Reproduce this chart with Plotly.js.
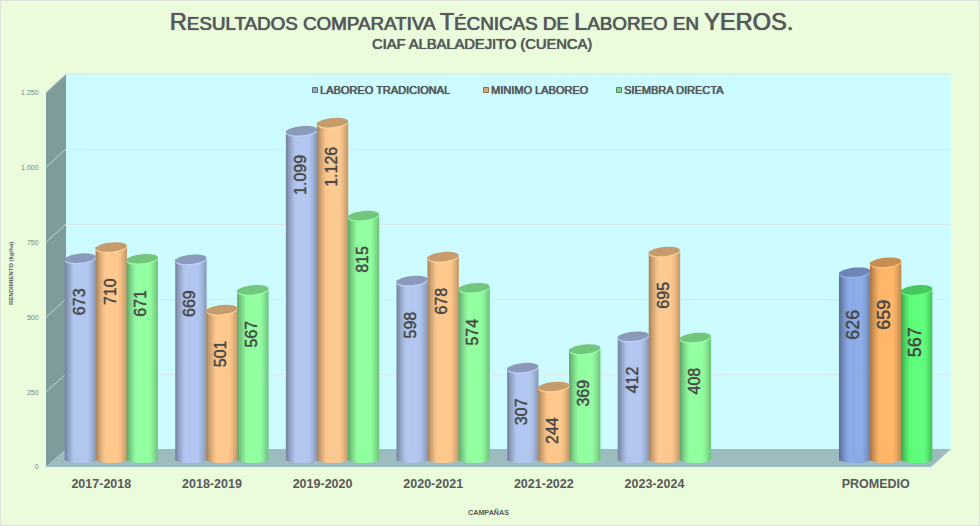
<!DOCTYPE html>
<html><head><meta charset="utf-8">
<script src="https://cdn.plot.ly/plotly-3.0.1.min.js"></script>
<style>html,body{margin:0;padding:0;background:#eafcdc}#c{width:980px;height:526px}</style>
</head><body><div id="c"></div>
<script>
const campaigns = ["2017-2018","2018-2019","2019-2020","2020-2021","2021-2022","2023-2024","","PROMEDIO"];
const tradicional = [673,669,1099,598,307,412,null,626];
const minimo = [710,501,1126,678,244,695,null,659];
const directa = [671,567,815,574,369,408,null,567];
const seriesNames = ["LABOREO TRADICIONAL","MINIMO LABOREO","SIEMBRA DIRECTA"];
const yTicks = [0,250,500,750,1000,1250];

const W=980,H=526;
const px=x=>x/W, py=y=>1-y/H;
const FONT='"Liberation Sans", Arial, sans-serif';
const TXT='#595959';
const soft=c=>'0.35px 0 0 '+c+', 0 0 1px '+c;
const bodyColors=[[178,198,240],[255,200,140],[146,255,160]];
const avgColors=[[138,170,232],[255,182,105],[92,255,120]];
const allSeries=[tradicional,minimo,directa];

const SCALE=0.2992, ZERO=459.5;
const barW=0.28, strips=16;
const capUnits=4.6/SCALE, tiltUnits=1.4/SCALE, bottomUnits=3.5/SCALE;
const labelDrop=147, labelDropAvg=174, labelShift=-0.012;

function shade(c,f){return 'rgb('+c.map(v=>Math.min(255,Math.round(v*f))).join(',')+')';}
function profile(t){
  if(t<0.3) return 0.62+0.38*Math.pow(t/0.3,0.8);
  if(t<0.72) return 1;
  return 1-0.24*Math.pow((t-0.72)/0.28,1.4);
}
function fmt(v){return String(v).replace(/\B(?=(\d{3})+$)/g,'.');}
function capPath(c,v){
  const pts=[];
  for(let a=0;a<32;a++){
    const th=a/32*2*Math.PI;
    pts.push((c+barW/2*Math.cos(th))+','+(v+capUnits*Math.sin(th)+tiltUnits*Math.cos(th)));
  }
  return 'M'+pts.join('L')+'Z';
}

const traces=[], shapes=[], annotations=[];
const front=v=>467-v*374.5/1250, back=v=>449-v*375/1250;

const poly=pts=>'M'+pts.map(p=>px(p[0])+','+py(p[1])).join('L')+'Z';
shapes.push({type:'rect',xref:'paper',yref:'paper',x0:px(66),x1:px(951),y0:py(449),y1:py(74),fillcolor:'#ccfcff',line:{width:0},layer:'below'});
shapes.push({type:'path',xref:'paper',yref:'paper',path:poly([[46,front(1250)],[66,74],[66,449],[46,467]]),fillcolor:'#7f9c9c',line:{width:0},layer:'below'});
shapes.push({type:'path',xref:'paper',yref:'paper',path:poly([[46,467],[66,449],[951,449],[931,467]]),fillcolor:'#9dbcbf',line:{width:0},layer:'below'});
yTicks.forEach(v=>{
  if(v===0) return;
  shapes.push({type:'line',xref:'paper',yref:'paper',x0:px(46),x1:px(66),y0:py(front(v)),y1:py(back(v)),line:{color:'#c5d3d3',width:1},layer:'below'});
});
shapes.push({type:'line',xref:'paper',yref:'paper',x0:px(66),x1:px(951),y0:py(74),y1:py(74),line:{color:'#d5e6e6',width:1},layer:'below'});

traces.push({type:'scatter',x:[0],y:[0],xaxis:'x',yaxis:'y',mode:'markers',marker:{opacity:0},hoverinfo:'skip',showlegend:false});

allSeries.forEach((vals,s)=>{
  const xs=[],ys=[],bases=[],widths=[],colors=[];
  vals.forEach((v,i)=>{
    if(v===null) return;
    const c=i+(s-1)*barW, avg=campaigns[i]==='PROMEDIO', col=(avg?avgColors:bodyColors)[s];
    for(let k=0;k<strips;k++){
      const t=(k+0.5)/strips, drop=bottomUnits*Math.sqrt(1-Math.pow(2*t-1,2));
      xs.push(c+(t-0.5)*barW); ys.push(v+drop); bases.push(-drop);
      widths.push(barW/strips*1.25); colors.push(shade(col,profile(t)));
    }
    shapes.push({type:'path',xref:'x2',yref:'y2',path:capPath(c,v-4),fillcolor:shade(col,1.06),line:{width:0},layer:'above'});
    shapes.push({type:'path',xref:'x2',yref:'y2',path:capPath(c,v),fillcolor:shade(col,0.78),line:{width:0},layer:'above'});
    annotations.push({xref:'x2',yref:'y2',x:c+labelShift,y:v-(avg?labelDropAvg:labelDrop),text:fmt(v),textangle:-90,showarrow:false,
      font:{family:FONT,size:avg?18:16,color:'#484848',shadow:'0 0 1px #484848'}});
  });
  traces.push({type:'bar',name:seriesNames[s],x:xs,y:ys,base:bases,width:widths,xaxis:'x2',yaxis:'y2',
    marker:{color:colors,line:{width:0}},hoverinfo:'skip',showlegend:false});
});

traces.push({type:'scatter',x:[0],y:[0],xaxis:'x3',yaxis:'y3',mode:'markers',marker:{opacity:0},hoverinfo:'skip',showlegend:false});

const legendX=[315,486,619], legendTextX=[318,489,622];
seriesNames.forEach((n,s)=>{
  shapes.push({type:'rect',xref:'paper',yref:'paper',x0:px(legendX[s]-2.5),x1:px(legendX[s]+2.5),y0:py(92.5),y1:py(87.5),
    fillcolor:shade(bodyColors[s],0.85),line:{color:shade(bodyColors[s],0.55),width:1},layer:'above'});
  annotations.push({xref:'paper',yref:'paper',x:px(legendTextX[s]),y:py(90),xanchor:'left',yanchor:'middle',text:n,showarrow:false,
    font:{family:FONT,size:11,color:TXT,shadow:soft(TXT)}});
});
annotations.push({xref:'paper',yref:'paper',x:px(481.5),y:py(44),yanchor:'middle',text:'CIAF ALBALADEJITO (CUENCA)',showarrow:false,
  font:{family:FONT,size:14.7,color:TXT,shadow:soft(TXT)}});
annotations.push({xref:'paper',yref:'paper',x:px(11),y:py(274),xanchor:'center',yanchor:'middle',text:'RENDIMIENTO (kg/ha)',textangle:-90,showarrow:false,
  font:{family:FONT,size:6,color:TXT,weight:'bold'}});
shapes.push({type:'rect',xref:'paper',yref:'paper',x0:0,x1:1,y0:0,y1:1,fillcolor:'rgba(0,0,0,0)',line:{color:'#d9d9d9',width:1.5},layer:'above'});

const big=t=>'<span style="font-size:23.6px">'+t+'</span>';
const layout={
  width:W,height:H,margin:{l:0,r:0,t:0,b:0},
  paper_bgcolor:'#eafcdc',plot_bgcolor:'rgba(0,0,0,0)',
  showlegend:false,barmode:'overlay',separators:',.',
  font:{family:FONT,color:TXT},
  title:{text:big('R')+'ESULTADOS COMPARATIVA '+big('T')+'ÉCNICAS DE '+big('L')+'ABOREO EN '+big('YEROS.'),
    x:481.5/W,xanchor:'center',y:py(23),yanchor:'middle',font:{family:FONT,size:18.8,color:TXT,shadow:soft(TXT)}},
  xaxis:{domain:[px(66),px(951)],range:[-0.5,7.5],visible:false,anchor:'y'},
  yaxis:{domain:[py(449),py(74)],range:[0,1250],anchor:'x',showgrid:true,gridcolor:'#d8eaea',gridwidth:1,tickvals:yTicks,showticklabels:false,ticks:'',zeroline:false,showline:false},
  xaxis2:{domain:[px(56),px(941)],range:[-0.5,7.5],visible:false,anchor:'y2'},
  yaxis2:{domain:[py(ZERO+70*SCALE),py(ZERO-1282*SCALE)],range:[-70,1282],visible:false,anchor:'x2'},
  xaxis3:{domain:[px(46),px(931)],range:[-0.5,7.5],anchor:'y3',tickvals:campaigns.map((c,i)=>i),ticktext:campaigns,
    ticks:'outside',ticklen:5,tickcolor:'rgba(0,0,0,0)',showgrid:false,zeroline:false,showline:false,
    tickfont:{family:FONT,size:12.5,color:TXT,weight:'bold'},
    title:{text:'CAMPAÑAS',standoff:19,font:{family:FONT,size:7.2,color:TXT,weight:'bold'}}},
  yaxis3:{domain:[py(front(0)),py(front(1250))],range:[0,1250],anchor:'x3',tickvals:yTicks,tickformat:',d',
    ticks:'outside',ticklen:5,tickcolor:'rgba(0,0,0,0)',showgrid:false,zeroline:false,showline:false,
    tickfont:{family:FONT,size:7,color:'#808080'}},
  shapes,annotations
};
Plotly.newPlot('c',traces,layout,{displayModeBar:false,staticPlot:true});
</script></body></html>
